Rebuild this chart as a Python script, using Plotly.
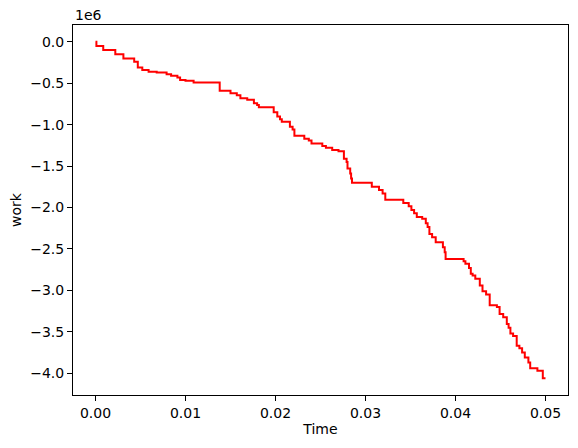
import plotly.graph_objects as go

# step points: time (s) and work (in units of 1e6)
time = [
    0.0, 0.0001, 0.00086, 0.0022, 0.0031, 0.0043, 0.0047, 0.0052, 0.0059, 0.0068,
    0.0079, 0.0084, 0.0091, 0.0094, 0.0100, 0.0109, 0.0138, 0.0150, 0.0157, 0.0161,
    0.01686, 0.0176, 0.01796, 0.01815, 0.0198, 0.0202, 0.0205, 0.0207, 0.0216, 0.0219,
    0.0221, 0.0232, 0.0237, 0.0240, 0.0252, 0.0256, 0.0263, 0.0270, 0.0276, 0.0279,
    0.0280, 0.0283, 0.0284, 0.0285, 0.0307, 0.0315, 0.0319, 0.0322, 0.0342, 0.0348,
    0.0351, 0.0354, 0.0357, 0.0363, 0.0367, 0.0369, 0.0371, 0.0374, 0.0378, 0.0386,
    0.0388, 0.0389, 0.0409, 0.0411, 0.0415, 0.0417, 0.0419, 0.0422, 0.0427, 0.0430,
    0.0434, 0.0438, 0.0446, 0.0449, 0.0453, 0.0457, 0.0459, 0.0461, 0.0464, 0.0468,
    0.0471, 0.0474, 0.0477, 0.0481, 0.0483, 0.0491, 0.0497, 0.0500,
]
work = [
    0.0, -0.05, -0.10, -0.15, -0.20, -0.24, -0.31, -0.34, -0.36, -0.37,
    -0.39, -0.41, -0.43, -0.46, -0.47, -0.49, -0.59, -0.62, -0.645, -0.68,
    -0.70, -0.742, -0.763, -0.79, -0.85, -0.90, -0.936, -0.965, -1.025, -1.057,
    -1.134, -1.17, -1.19, -1.226, -1.259, -1.28, -1.307, -1.32, -1.41, -1.45,
    -1.53, -1.59, -1.65, -1.70, -1.75, -1.79, -1.83, -1.905, -1.945, -1.985,
    -2.03, -2.07, -2.115, -2.135, -2.19, -2.235, -2.32, -2.36, -2.42, -2.48,
    -2.54, -2.62, -2.65, -2.68, -2.73, -2.80, -2.82, -2.86, -2.94, -3.01,
    -3.05, -3.18, -3.20, -3.285, -3.325, -3.405, -3.45, -3.52, -3.55, -3.67,
    -3.70, -3.75, -3.81, -3.87, -3.94, -3.97, -4.06, -4.06,
]

FONT = "DejaVu Sans"

fig = go.Figure()
fig.add_trace(
    go.Scatter(
        x=time,
        y=work,
        mode="lines",
        line={"color": "#ff0000", "width": 2, "shape": "hv"},
        showlegend=False,
    )
)

axis_common = {
    "showline": True,
    "linecolor": "black",
    "linewidth": 1,
    "mirror": True,
    "showgrid": False,
    "zeroline": False,
    "automargin": False,
    "ticks": "outside",
    "ticklen": 5,
    "tickwidth": 1,
    "tickcolor": "black",
    "tickfont": {"family": FONT, "size": 14, "color": "black"},
}

# the page body adds 8px of margin, so the figure is 8px smaller and shifted
fig.update_layout(
    width=570,
    height=440,
    margin={"l": 65, "r": 10, "t": 17, "b": 53},
    paper_bgcolor="white",
    plot_bgcolor="white",
    font={"family": FONT, "size": 14, "color": "black"},
    xaxis={
        **axis_common,
        "range": [-0.0025, 0.0525],
        "dtick": 0.01,
        "tick0": 0,
        "tickformat": ".2f",
        "title": {"text": "Time", "font": {"family": FONT, "size": 14}, "standoff": 4},
    },
    yaxis={
        **axis_common,
        "range": [-4.263, 0.203],
        "dtick": 0.5,
        "tick0": 0,
        "tickformat": ".1f",
        "title": {"text": "work", "font": {"family": FONT, "size": 14}, "standoff": 6},
    },
    annotations=[
        {
            "text": "1e6",
            "xref": "paper",
            "yref": "paper",
            "x": 0,
            "y": 1,
            "xanchor": "left",
            "yanchor": "bottom",
            "showarrow": False,
            "font": {"family": FONT, "size": 14, "color": "black"},
            "yshift": 0,
        }
    ],
)

fig.write_html("out.html")
